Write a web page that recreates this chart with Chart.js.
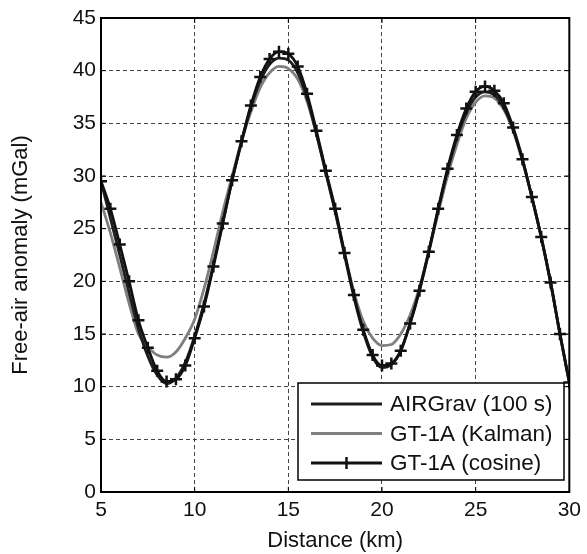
<!DOCTYPE html>
<html>
<head>
<meta charset="utf-8">
<script src="https://cdn.jsdelivr.net/npm/chart.js@4"></script>
<style>
  html, body { margin: 0; padding: 0; background: #fff; }
  #wrap { width: 587px; height: 554px; }
</style>
</head>
<body>
<div id="wrap"><canvas id="gravChart" width="587" height="554"></canvas></div>
<script>
// distance along the line (km)
const distance = [5, 5.5, 6, 6.5, 7, 7.5, 8, 8.5, 9, 9.5,
    10, 10.5, 11, 11.5, 12, 12.5, 13, 13.5, 14, 14.5,
    15, 15.5, 16, 16.5, 17, 17.5, 18, 18.5, 19, 19.5,
    20, 20.5, 21, 21.5, 22, 22.5, 23, 23.5, 24, 24.5,
    25, 25.5, 26, 26.5, 27, 27.5, 28, 28.5, 29, 29.5, 30];

// free-air anomaly (mGal)
const airgrav = [29.5, 26.0, 22.5, 18.9, 15.5, 12.9, 11.1, 10.3, 10.8, 12.3,
    14.8, 17.9, 21.6, 25.6, 29.6, 33.2, 36.5, 39.0, 40.6, 41.2,
    41.0, 39.8, 37.4, 34.0, 30.3, 26.6, 22.5, 18.5, 15.2, 12.8,
    11.8, 12.1, 13.4, 16.0, 19.2, 22.9, 26.8, 30.5, 33.6, 36.0,
    37.5, 38.0, 37.7, 36.5, 34.4, 31.5, 28.0, 24.2, 19.9, 15.0, 10.4];

const kalman = [27.5, 24.6, 21.3, 17.9, 15.0, 13.8, 13.0, 12.8, 13.3, 14.6,
    16.4, 19.3, 22.8, 26.6, 30.0, 33.3, 36.1, 38.4, 39.8, 40.4,
    40.2, 39.2, 37.1, 34.0, 30.4, 26.7, 22.7, 19.0, 16.2, 14.6,
    13.9, 14.0, 15.0, 16.8, 19.4, 22.8, 26.5, 30.0, 33.0, 35.5,
    37.0, 37.6, 37.4, 36.3, 34.3, 31.4, 28.0, 24.2, 19.9, 15.0, 10.4];

const cosine = [29.5, 26.9, 23.5, 20.0, 16.3, 13.7, 11.5, 10.5, 10.7, 12.0,
    14.6, 17.6, 21.4, 25.5, 29.6, 33.3, 36.7, 39.4, 41.1, 41.8,
    41.6, 40.4, 37.8, 34.3, 30.5, 26.9, 22.7, 18.7, 15.4, 13.0,
    12.0, 12.2, 13.4, 16.0, 19.1, 22.8, 26.9, 30.7, 33.9, 36.4,
    38.0, 38.5, 38.1, 36.9, 34.6, 31.6, 28.0, 24.2, 19.9, 15.0, 10.4];

const seriesNames = ['AIRGrav (100 s)', 'GT-1A (Kalman)', 'GT-1A (cosine)'];

const FONT = '"Liberation Sans", Arial, Helvetica, sans-serif';

function toPoints(ys) {
    return distance.map((x, i) => ({ x: x, y: ys[i] }));
}

// box round the axes, inner ticks on top/right, and the legend
const framePlugin = {
    id: 'frame',
    afterDraw(chart) {
        const { ctx, chartArea: a, scales } = chart;
        ctx.save();
        ctx.strokeStyle = '#000';
        ctx.lineWidth = 2;
        ctx.strokeRect(a.left, a.top, a.right - a.left, a.bottom - a.top);

        ctx.lineWidth = 1;
        scales.x.ticks.forEach(t => {
            const px = scales.x.getPixelForValue(t.value);
            ctx.beginPath();
            ctx.moveTo(px, a.top); ctx.lineTo(px, a.top + 5);
            ctx.moveTo(px, a.bottom); ctx.lineTo(px, a.bottom - 5);
            ctx.stroke();
        });
        scales.y.ticks.forEach(t => {
            const py = scales.y.getPixelForValue(t.value);
            ctx.beginPath();
            ctx.moveTo(a.left, py); ctx.lineTo(a.left + 5, py);
            ctx.moveTo(a.right, py); ctx.lineTo(a.right - 5, py);
            ctx.stroke();
        });

        // legend box
        const lx = 298, ly = 383, lw = 266, lh = 97;
        ctx.fillStyle = '#fff';
        ctx.fillRect(lx, ly, lw, lh);
        ctx.lineWidth = 1.5;
        ctx.strokeStyle = '#000';
        ctx.strokeRect(lx, ly, lw, lh);

        const rows = [404, 433.5, 463];
        ctx.font = '22.5px ' + FONT;
        ctx.textBaseline = 'middle';
        ctx.textAlign = 'left';
        chart.data.datasets.forEach((ds, i) => {
            const y = rows[i];
            ctx.strokeStyle = ds.borderColor;
            ctx.lineWidth = ds.borderWidth;
            ctx.beginPath();
            ctx.moveTo(311, y); ctx.lineTo(382, y);
            ctx.stroke();
            if (ds.pointRadius > 0) {
                ctx.lineWidth = 2.5;
                ctx.beginPath();
                ctx.moveTo(346.5, y - 6); ctx.lineTo(346.5, y + 6);
                ctx.stroke();
            }
            ctx.fillStyle = '#111';
            ctx.fillText(ds.label, 390, y + 1);
        });
        ctx.restore();
    }
};

const ctx = document.getElementById('gravChart').getContext('2d');
const gravChart = new Chart(ctx, {
    type: 'line',
    data: {
        datasets: [{
            label: seriesNames[0],
            data: toPoints(airgrav),
            borderColor: '#1e1e1e',
            borderWidth: 2.8,
            pointRadius: 0,
            cubicInterpolationMode: 'monotone',
            order: 1
        }, {
            label: seriesNames[1],
            data: toPoints(kalman),
            borderColor: '#7f7f7f',
            borderWidth: 2.8,
            pointRadius: 0,
            cubicInterpolationMode: 'monotone',
            order: 2
        }, {
            label: seriesNames[2],
            data: toPoints(cosine),
            borderColor: '#111',
            borderWidth: 2.8,
            pointStyle: 'cross',
            pointRadius: 6,
            pointBorderWidth: 2.5,
            pointBorderColor: '#111',
            cubicInterpolationMode: 'monotone',
            order: 0
        }]
    },
    options: {
        responsive: false,
        animation: false,
        layout: { padding: { top: 18, right: 12, left: 0, bottom: 0 } },
        plugins: {
            legend: { display: false },
            tooltip: { enabled: false }
        },
        scales: {
            x: {
                type: 'linear',
                min: 5,
                max: 30,
                afterFit(scale) { scale.height = 62; },
                ticks: {
                    stepSize: 5,
                    padding: 6,
                    color: '#111',
                    font: { family: FONT, size: 21 }
                },
                grid: {
                    color: '#444',
                    lineWidth: 1,
                    drawTicks: false
                },
                border: { color: '#000', width: 2, dash: [4, 3] },
                title: {
                    display: true,
                    text: 'Distance (km)',
                    color: '#111',
                    padding: { top: 0, bottom: 0 },
                    font: { family: FONT, size: 22 }
                }
            },
            y: {
                min: 0,
                max: 45,
                afterFit(scale) { scale.width = 101; },
                ticks: {
                    stepSize: 5,
                    padding: 5,
                    color: '#111',
                    font: { family: FONT, size: 21 }
                },
                grid: {
                    color: '#444',
                    lineWidth: 1,
                    drawTicks: false
                },
                border: { color: '#000', width: 2, dash: [4, 3] },
                title: {
                    display: true,
                    text: 'Free-air anomaly (mGal)',
                    color: '#111',
                    padding: { top: 8, bottom: 0 },
                    font: { family: FONT, size: 22 }
                }
            }
        }
    },
    plugins: [framePlugin]
});
</script>
</body>
</html>
